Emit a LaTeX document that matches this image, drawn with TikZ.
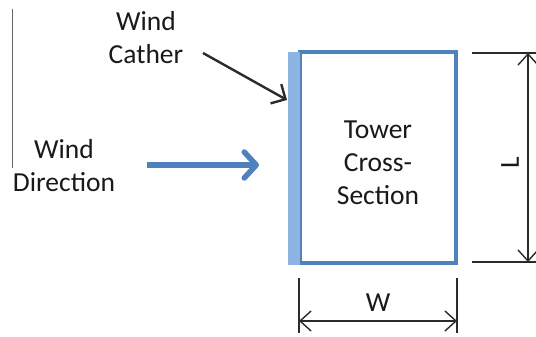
\documentclass[tikz,border=0pt]{standalone}
\usepackage{fontspec}
\setmainfont{Carlito}
\usetikzlibrary{arrows.meta}
\definecolor{towerblue}{HTML}{4F81BD}
\definecolor{catcherblue}{HTML}{8DB4E2}
\definecolor{ink}{HTML}{2B2B2B}
\tikzset{
  lbl/.style={align=center, inner sep=0pt, font=\fontsize{27.5}{33}\selectfont, text=black!90},
  dimline/.style={draw=ink, line width=1.4pt},
  dimarrow/.style={dimline, {Straight Barb[length=11pt,width=20pt]}-{Straight Barb[length=11pt,width=20pt]}},
}
\begin{document}
\begin{tikzpicture}[x=1pt, y=-1pt]
  \useasboundingbox (0,0) rectangle (536,337);

  % thin rule on the left
  \coordinate (ruletop) at (12,9);
  \coordinate (rulebot) at (12,168);
  \draw[gray!80!black, line width=1pt] (ruletop) -- (rulebot);

  % tower outline and the wind catcher strip on its windward face
  \node[draw=towerblue, line width=3.2pt, minimum width=156pt, minimum height=211pt, inner sep=0pt]
    (tower) at (378,157.5) {};
  \node[fill=catcherblue, minimum width=12pt, minimum height=213pt, inner sep=0pt]
    (catcher) at (294,158.5) {};
  \node[lbl] (towerlbl) at (378,163) {Tower\\Cross-\\Section};

  % labels
  \node[lbl] (catcherlbl) at (146,38) {Wind\\Cather};
  \node[lbl] (windlbl) at (64,166) {Wind\\Direction};

  % pointer to the wind catcher
  \coordinate (cstart) at (203,53);
  \coordinate (cend) at (287,100);
  \draw[draw=ink, line width=2.4pt, -{Straight Barb[length=11pt,width=22pt]}] (cstart) -- (cend);

  % wind direction arrow
  \coordinate (wstart) at (147,165);
  \coordinate (wend) at (259,165);
  \draw[draw=towerblue, line width=5.5pt, -{Straight Barb[length=12pt,width=26pt,round]}] (wstart) -- (wend);

  % dimension L
  \coordinate (ltop0) at (472,53);
  \coordinate (ltop1) at (536,53);
  \coordinate (lbot0) at (472,262);
  \coordinate (lbot1) at (536,262);
  \coordinate (la) at (528,53);
  \coordinate (lb) at (528,262);
  \draw[dimline] (ltop0) -- (ltop1);
  \draw[dimline] (lbot0) -- (lbot1);
  \draw[dimarrow] (la) -- (lb);
  \node[lbl, rotate=90] (Llbl) at (510,163) {L};

  % dimension W
  \coordinate (wl0) at (299,278);
  \coordinate (wl1) at (299,333);
  \coordinate (wr0) at (457,278);
  \coordinate (wr1) at (457,333);
  \coordinate (wa) at (299,321);
  \coordinate (wb) at (457,321);
  \draw[dimline] (wl0) -- (wl1);
  \draw[dimline] (wr0) -- (wr1);
  \draw[dimarrow] (wa) -- (wb);
  \node[lbl] (Wlbl) at (378,303) {W};
\end{tikzpicture}
\end{document}
